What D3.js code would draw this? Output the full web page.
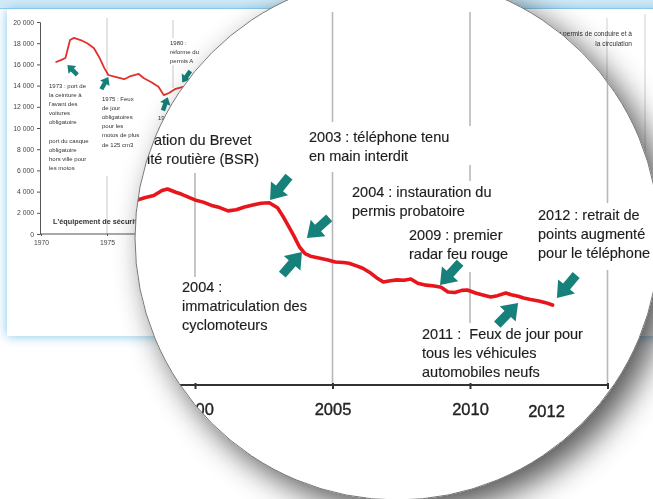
<!DOCTYPE html>
<html><head><meta charset="utf-8">
<script src="https://cdn.jsdelivr.net/npm/d3@7"></script>
<style>
html,body{margin:0;padding:0;background:#fff;}
svg{display:block;font-family:"Liberation Sans",Arial,sans-serif;}
</style>
</head><body>
<svg id="c" width="653" height="499"></svg>
<script>
// ---------------- DATA ----------------
// Background (unmagnified) chart : road deaths, 12-month rolling total
const earlyYears  = [1971.1,1971.5,1971.85,1972.2,1972.5,1973.0,1973.5,1974.0,1974.4,1974.8,1975.1,1975.7,1976.3,1976.8,1977.4,1977.8,1978.4,1978.9,1979.3,1979.7,1980.2,1980.7,1981.2,1981.7];
const earlyValues = [16200,16400,16600,18300,18500,18300,18000,17550,16700,15650,15000,14800,14600,14900,15100,14700,14300,13900,13100,13300,13700,13850,14000,14100];
const smallYTicks = [0,2000,4000,6000,8000,10000,12000,14000,16000,18000,20000];
const smallXTicks = [1970,1975];
const earlyNotes = [
  ["1973 : port de","la ceinture à","l'avant des","voitures","obligatoire","","port du casque","obligatoire","hors ville pour","les motos"],
  ["1975 : Feux","de jour","obligatoires","pour les","motos de plus","de 125 cm3"],
  ["1980 :","réforme du","permis A"],
  ["1981 :","..."]
];
const earlyArrowYears  = [1972.0,1975.1,1980.7,1979.6];
const earlyArrowValues = [15950,14800,14300,12900];
const earlyArrowAngles = [-135,-60,125,-70];
const smallTitle = "L'équipement de sécurité";
const farNote = ["…ation du permis de conduire et à","la circulation"];

// Magnified chart
const recentYears  = [1997.9,1998.2,1998.5,1998.8,1999.0,1999.3,1999.5,1999.8,2000.0,2000.3,2000.6,2000.9,2001.2,2001.5,2001.8,2002.1,2002.4,2002.7,2003.0,2003.2,2003.4,2003.6,2003.8,2004.0,2004.2,2004.5,2004.8,2005.1,2005.4,2005.6,2005.9,2006.1,2006.4,2006.6,2006.85,2007.1,2007.35,2007.6,2007.85,2008.1,2008.4,2008.7,2008.95,2009.2,2009.45,2009.7,2009.9,2010.2,2010.5,2010.75,2011.0,2011.3,2011.5,2011.75,2011.95,2012.2,2012.5,2012.75,2013.0];
const recentValues = [8450,8560,8650,8880,8950,8800,8720,8560,8450,8350,8200,8100,7950,8000,8130,8220,8300,8320,8090,7700,7250,6800,6300,6000,5880,5800,5720,5620,5590,5560,5430,5330,5100,4900,4700,4760,4800,4780,4840,4650,4560,4520,4460,4250,4220,4320,4340,4200,4100,4020,4080,4200,4120,4050,3970,3900,3840,3760,3650];
const bigXTicks = [2000,2005,2010,2015];
const bigXTickLabels = ["2000","2005","2010",""];
const endLabel = "2012";
const recentNotes = [
  ["ation du Brevet","ité routière (BSR)"],
  ["2003 : téléphone tenu","en main interdit"],
  ["2004 : instauration du","permis probatoire"],
  ["2009 : premier","radar feu rouge"],
  ["2012 : retrait de","points augmenté","pour le téléphone"],
  ["2004 :","immatriculation des","cyclomoteurs"],
  ["2011 :  Feux de jour pour","tous les véhicules","automobiles neufs"]
];
const recentArrowYears  = [2002.73,2004.07,2003.89,2008.91,2011.75,2013.16];
const recentArrowValues = [8447,6712,6073,4566,3744,3973];
const recentArrowAngles = [129,138,-49,132,-46,130];

// ---------------- LAYOUT ----------------
const W = 653, H = 499;
const lens = {cx:397, cy:238, r:262};
const svg = d3.select("#c");
const defs = svg.append("defs");

const glow = defs.append("filter").attr("id","glow").attr("x","-10%").attr("y","-20%").attr("width","120%").attr("height","140%");
glow.append("feGaussianBlur").attr("in","SourceAlpha").attr("stdDeviation",6).attr("result","b");
glow.append("feFlood").attr("flood-color","#7fc4ea").attr("result","f");
glow.append("feComposite").attr("in","f").attr("in2","b").attr("operator","in").attr("result","g");
const gm = glow.append("feMerge"); gm.append("feMergeNode").attr("in","g"); gm.append("feMergeNode").attr("in","SourceGraphic");

const soft = defs.append("filter").attr("id","soft");
soft.append("feGaussianBlur").attr("stdDeviation",0.45);
const soft2 = defs.append("filter").attr("id","soft2");
soft2.append("feGaussianBlur").attr("stdDeviation",0.3);

const sh = defs.append("filter").attr("id","sh").attr("x","-30%").attr("y","-30%").attr("width","160%").attr("height","160%");
sh.append("feGaussianBlur").attr("in","SourceAlpha").attr("stdDeviation",16);
sh.append("feOffset").attr("dx",12).attr("dy",12).attr("result","o");
const ct = sh.append("feComponentTransfer"); ct.append("feFuncA").attr("type","linear").attr("slope",0.68);
const sm = sh.append("feMerge"); sm.append("feMergeNode"); sm.append("feMergeNode").attr("in","SourceGraphic");

defs.append("clipPath").attr("id","lensClip").append("circle")
  .attr("cx",lens.cx).attr("cy",lens.cy).attr("r",lens.r);

// background window
svg.append("rect").attr("width",W).attr("height",H).attr("fill","#fff");
svg.append("rect").attr("x",0).attr("y",0).attr("width",W).attr("height",9).attr("fill","#d3eaf6");
svg.append("rect").attr("x",7).attr("y",9).attr("width",720).attr("height",327).attr("fill","#fff").attr("filter","url(#glow)");
svg.append("line").attr("x1",0).attr("x2",W).attr("y1",8.5).attr("y2",8.5).attr("stroke","#8cc8ea").attr("stroke-width",1.2);

// ---------- small chart ----------
const sG = svg.append("g").attr("filter","url(#soft)");
const sx = d3.scaleLinear().domain([1970,1975]).range([41,107]);
const sy = d3.scaleLinear().domain([0,20000]).range([234,22]);
const fmt = d => d3.format(",")(d).replace(/,/g," ");

const smallGrid = [[1975,18,76],[1975,176,234],[1980,20,38],[1980,65,88]];
sG.selectAll(".sg").data(smallGrid).join("line")
  .attr("x1",d=>sx(d[0])).attr("x2",d=>sx(d[0])).attr("y1",d=>d[1]).attr("y2",d=>d[2])
  .attr("stroke","#c8c8c8").attr("stroke-width",1);

const yAx = sG.append("g").attr("transform",`translate(${sx(1970)-1},0)`)
  .call(d3.axisLeft(sy).tickValues(smallYTicks).tickFormat(fmt).tickSize(3).tickPadding(3));
yAx.select(".domain").attr("stroke","#555");
yAx.selectAll("line").attr("stroke","#555");
yAx.selectAll("text").attr("font-size",6.8).attr("fill","#444").attr("font-family","Liberation Sans, Arial");
const xAx = sG.append("g").attr("transform",`translate(0,${sy(0)})`)
  .call(d3.axisBottom(sx).tickValues(smallXTicks).tickFormat(d3.format("d")).tickSize(2).tickPadding(4));
xAx.select(".domain").attr("stroke","#555").attr("d",`M${sx(1970)-1},0H${sx(1982)}`);
xAx.selectAll("line").attr("stroke","#555");
xAx.selectAll("text").attr("font-size",6.8).attr("fill","#444").attr("font-family","Liberation Sans, Arial");

sG.append("path").datum(earlyYears.map((y,i)=>[y,earlyValues[i]]))
  .attr("d",d3.line().x(d=>sx(d[0])).y(d=>sy(d[1])))
  .attr("fill","none").attr("stroke","#e0322c").attr("stroke-width",1.8).attr("stroke-linejoin","round");

function arrowPath(L,H,Wd,S){
  return `M0,0L${-H},${Wd}L${-H},${S}L${-L},${S}L${-L},${-S}L${-H},${-S}L${-H},${-Wd}Z`;
}
sG.selectAll(".sa").data(earlyArrowYears.map((y,i)=>({x:sx(y),y:sy(earlyArrowValues[i]),a:earlyArrowAngles[i]})))
  .join("path").attr("d",arrowPath(14,7,5.5,2.2))
  .attr("transform",d=>`translate(${d.x},${d.y}) rotate(${d.a})`).attr("fill","#18807a");

const earlyNotePos = [[49,88],[102,101],[170,45],[158,120]];
earlyNotes.forEach((lines,i)=>{
  const t = sG.append("text").attr("x",earlyNotePos[i][0]).attr("y",earlyNotePos[i][1])
    .attr("font-size",6).attr("fill","#333");
  lines.forEach((ln,j)=>t.append("tspan").attr("x",earlyNotePos[i][0]).attr("y",earlyNotePos[i][1]+j*9.1).text(ln));
});
sG.append("text").attr("x",53).attr("y",224).attr("font-size",7.3).attr("font-weight","bold").attr("fill","#333").text(smallTitle);

sG.selectAll(".fg").data([[607,18,165],[645,14,200]]).join("line")
  .attr("x1",d=>d[0]).attr("x2",d=>d[0]).attr("y1",d=>d[1]).attr("y2",d=>d[2])
  .attr("stroke","#cfcfcf").attr("stroke-width",1);
farNote.forEach((ln,j)=>sG.append("text").attr("x",632).attr("y",36+j*10).attr("text-anchor","end")
  .attr("font-size",6.6).attr("fill","#333").text(ln));

// ---------- magnifier ----------
svg.append("circle").attr("cx",lens.cx).attr("cy",lens.cy).attr("r",lens.r)
  .attr("fill","#fff").attr("filter","url(#sh)");
const bG = svg.append("g").attr("clip-path","url(#lensClip)").append("g").attr("filter","url(#soft2)");

const bx = d3.scaleLinear().domain([2000,2010]).range([195,470]);
const by = d3.scaleLinear().domain([0,10000]).range([385,166]);

const bigGrid = [[2000,173,277],[2005,12,122],[2005,172,385],[2010,12,126],[2010,165,181],[2010,272,323],[2015,40,203],[2015,270,385]];
bG.selectAll(".bg").data(bigGrid).join("line")
  .attr("x1",d=>bx(d[0])).attr("x2",d=>bx(d[0])).attr("y1",d=>d[1]).attr("y2",d=>d[2])
  .attr("stroke","#b8b8b8").attr("stroke-width",1.6);

const bAx = bG.append("g").attr("transform",`translate(0,${by(0)})`)
  .call(d3.axisBottom(bx).tickValues(bigXTicks).tickFormat((d,i)=>bigXTickLabels[i]).tickSize(4).tickPadding(14));
bAx.select(".domain").attr("d",`M100,0H${bx(2015)}`).attr("stroke","#333").attr("stroke-width",2.2);
bAx.selectAll(".tick line").attr("stroke","#333").attr("stroke-width",2).attr("y1",-2);
bAx.selectAll("text").attr("font-size",16.5).attr("fill","#222").attr("font-family","Liberation Sans, Arial")
  .attr("stroke","#222").attr("stroke-width",0.35);
bG.append("text").attr("x",bx(recentYears[recentYears.length-1])-6).attr("y",by(0)+32).attr("text-anchor","middle")
  .attr("font-size",16.5).attr("fill","#222").attr("stroke","#222").attr("stroke-width",0.35).text(endLabel);

bG.append("path").datum(recentYears.map((y,i)=>[y,recentValues[i]]))
  .attr("d",d3.line().x(d=>bx(d[0])).y(d=>by(d[1])))
  .attr("fill","none").attr("stroke","#e8161c").attr("stroke-width",3.6).attr("stroke-linejoin","round").attr("stroke-linecap","round");

bG.selectAll(".ba").data(recentArrowYears.map((y,i)=>({x:bx(y),y:by(recentArrowValues[i]),a:recentArrowAngles[i]})))
  .join("path").attr("d",arrowPath(30,15,11,4.5))
  .attr("transform",d=>`translate(${d.x},${d.y}) rotate(${d.a})`).attr("fill","#18807a");

const recentNotePos = [[[154,145],[147,164]],[[309,142]],[[352,197]],[[409,240]],[[538,220]],[[182,292]],[[422,339]]];
recentNotes.forEach((lines,i)=>{
  const t = bG.append("text").attr("font-size",14.5).attr("fill","#1e1e1e").style("white-space","pre")
    .attr("stroke","#1e1e1e").attr("stroke-width",0.15);
  const p = recentNotePos[i];
  lines.forEach((ln,j)=>{
    const x = p[j] ? p[j][0] : p[0][0];
    const y = p[j] ? p[j][1] : p[0][1] + j*19.2;
    t.append("tspan").attr("x",x).attr("y",y).text(ln);
  });
});

svg.append("circle").attr("cx",lens.cx).attr("cy",lens.cy).attr("r",lens.r)
  .attr("fill","none").attr("stroke","#777").attr("stroke-width",1);
</script>
</body></html>
